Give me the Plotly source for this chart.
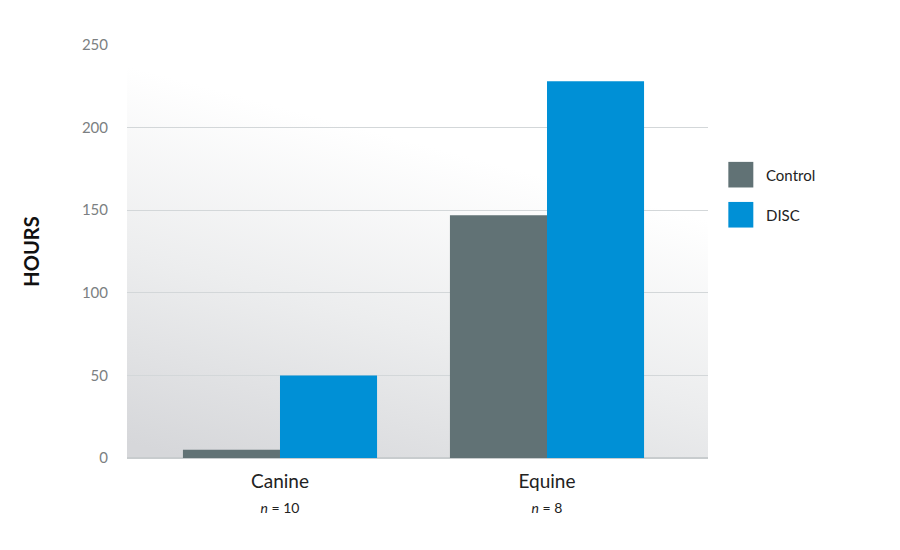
import base64
import plotly.graph_objects as go

# Data
species = ["Canine", "Equine"]
sample_sizes = [10, 8]
control_hours = [5, 147]
disc_hours = [50, 228]

tick_labels = [
    f"{s}<br><span style='font-size:14px'><i>n</i> = {n}</span>"
    for s, n in zip(species, sample_sizes)
]

# soft gray-to-white gradient behind the bars
svg = (
    "<svg xmlns='http://www.w3.org/2000/svg' width='100' height='100' preserveAspectRatio='none'>"
    "<defs><linearGradient id='g' x1='0.1' y1='1' x2='0.4' y2='0.2'>"
    "<stop offset='0' stop-color='#d6d7da'/>"
    "<stop offset='0.5' stop-color='#ecedee'/>"
    "<stop offset='1' stop-color='#ffffff'/>"
    "</linearGradient></defs>"
    "<rect width='100' height='100' fill='url(#g)'/></svg>"
)
bg_src = "data:image/svg+xml;base64," + base64.b64encode(svg.encode()).decode()

fig = go.Figure()
fig.add_trace(go.Bar(x=tick_labels, y=control_hours, name="Control",
                     marker=dict(color="#617275", line=dict(width=0))))
fig.add_trace(go.Bar(x=tick_labels, y=disc_hours, name="DISC",
                     marker=dict(color="#0090d6", line=dict(width=0))))

fig.update_layout(
    width=900, height=550,
    margin=dict(l=119, r=200, t=37, b=100),
    paper_bgcolor="white",
    plot_bgcolor="rgba(0,0,0,0)",
    barmode="group",
    bargap=0.273,
    bargroupgap=0,
    showlegend=False,
    font=dict(family="Lato, Noto Sans, sans-serif", color="#222"),
    images=[dict(source=bg_src, xref="paper", yref="paper", x=0, y=1,
                 sizex=1, sizey=1, sizing="stretch", layer="below")],
)

fig.update_xaxes(
    range=[-0.573, 1.603],
    showgrid=False, showline=False, zeroline=False,
    ticks="", ticklabelstandoff=10,
    tickfont=dict(size=19, color="#222"),
)
fig.update_yaxes(
    range=[0, 250], dtick=50,
    showgrid=True, gridcolor="#d3d7d9", gridwidth=1,
    zeroline=True, zerolinecolor="#c8ccce", zerolinewidth=1.5,
    showline=False, ticks="",
    ticklabelstandoff=18,
    tickfont=dict(size=15, color="#7c7f82"),
    title=dict(text="<b>HOURS</b>", font=dict(size=20, color="#111"), standoff=36),
)

# legend drawn as large swatches to the right of the plot
legend_items = [("Control", "#617275"), ("DISC", "#0090d6")]
for i, (label, color) in enumerate(legend_items):
    y_top = 0.717 - i * 0.097
    fig.add_shape(type="rect", xref="paper", yref="paper",
                  x0=1.035, x1=1.078, y0=y_top - 0.062, y1=y_top,
                  fillcolor=color, line=dict(width=0))
    fig.add_annotation(xref="paper", yref="paper", x=1.096, y=y_top - 0.031,
                       text=label, showarrow=False, xanchor="left", yanchor="middle",
                       font=dict(size=15, color="#222"))

fig.write_html("out.html")
